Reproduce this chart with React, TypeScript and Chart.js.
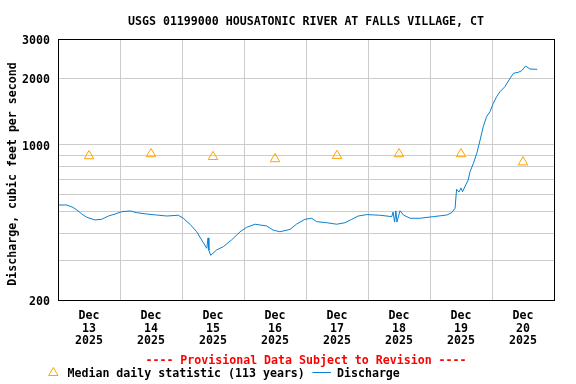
import React, { useEffect, useRef } from "react";
import { Chart, registerables } from "chart.js";

Chart.register(...registerables);

const TITLE = "USGS 01199000 HOUSATONIC RIVER AT FALLS VILLAGE, CT";
const Y_TITLE = "Discharge, cubic feet per second";
const PROVISIONAL = "---- Provisional Data Subject to Revision ----";
const LEGEND_MEDIAN = "Median daily statistic (113 years)";
const LEGEND_DISCHARGE = "Discharge";

const monthLabel = "Dec";
const yearLabel = "2025";
const dayLabels = ["13", "14", "15", "16", "17", "18", "19", "20"];

const yGridValues = [200, 300, 400, 500, 600, 700, 800, 900, 1000, 2000, 3000];
const yLabelValues = [200, 1000, 2000, 3000];

// hours since Dec 13 00:00
const dischargeHours = [
  0, 3.4, 5.8, 7.7, 9.2, 11.1, 14.3, 16.9, 19.5, 22.1, 24.7, 27.9, 30.5, 34.3,
  38.2, 42.1, 46.6, 48.5, 51.1, 53.7, 55.6, 57.6, 58.1, 58.4, 59.1, 61.4, 64.0,
  67.2, 70.5, 73.0, 76.3, 80.8, 83.3, 85.9, 89.8, 92.4, 95.6, 98.2, 100.1,
  104.0, 107.9, 111.1, 113.7, 116.2, 119.5, 124.6, 129.2, 129.7, 130.3, 130.8,
  131.2, 132.4, 133.7, 136.3, 140.1, 145.3, 150.5, 152.4, 153.7, 154.3, 155.2,
  156.0, 156.6, 157.5, 158.8, 159.5, 160.8, 162.1, 163.4, 164.6, 165.9, 167.2,
  168.5, 169.8, 171.1, 173.0, 175.0, 176.3, 178.2, 179.5, 181.0, 182.7, 185.5,
];
const dischargeValues = [
  536, 536, 523, 505, 488, 472, 459, 462, 478, 488, 500, 504, 495, 488,
  483, 478, 482, 467, 439, 406, 373, 342, 381, 335, 318, 336, 348,
  373, 406, 425, 439, 431, 413, 406, 416, 440, 462, 467, 451,
  446, 439, 446, 462, 478, 485, 482, 475, 498, 449, 504,
  449, 505, 483, 467, 467, 475, 483, 495, 518, 631, 613,
  640, 615, 648, 695, 757, 826, 916, 1052, 1207, 1339, 1411,
  1539, 1649, 1737, 1829, 1995, 2102, 2124, 2159, 2267, 2197, 2190,
];

const medianHours = [12, 36, 60, 84, 108, 132, 156, 180];
const medianValues = [891, 910, 884, 864, 894, 910, 910, 836];

const FONT = 'bold 11.6px "DejaVu Sans Mono"';
const LINE_COLOR = "#0a80d0";
const MEDIAN_COLOR = "#ffa500";
const GRID_COLOR = "#cccccc";

const decorPlugin = {
  id: "decor",
  afterDraw(chart: any) {
    const { ctx, chartArea: a } = chart;
    ctx.save();
    ctx.strokeStyle = "#000";
    ctx.lineWidth = 1;
    ctx.strokeRect(a.left + 0.5, a.top + 0.5, a.right - a.left, a.bottom - a.top);

    const cx = (a.left + a.right) / 2;
    ctx.font = FONT;
    ctx.fillStyle = "#000";
    ctx.textAlign = "center";
    ctx.textBaseline = "middle";
    ctx.fillText(TITLE, cx, 21.5);

    ctx.save();
    ctx.translate(13, 174);
    ctx.rotate(-Math.PI / 2);
    ctx.fillText(Y_TITLE, 0, 0);
    ctx.restore();

    ctx.fillStyle = "#ff0000";
    ctx.fillText(PROVISIONAL, cx, 360.5);

    // legend
    ctx.strokeStyle = MEDIAN_COLOR;
    ctx.beginPath();
    ctx.moveTo(53.3, 367.5);
    ctx.lineTo(58, 375.5);
    ctx.lineTo(48.6, 375.5);
    ctx.closePath();
    ctx.stroke();

    ctx.fillStyle = "#000";
    ctx.textAlign = "left";
    ctx.fillText(LEGEND_MEDIAN, 67.5, 374);

    ctx.strokeStyle = LINE_COLOR;
    ctx.beginPath();
    ctx.moveTo(312.5, 372.5);
    ctx.lineTo(331, 372.5);
    ctx.stroke();

    ctx.fillText(LEGEND_DISCHARGE, 337, 374);
    ctx.restore();
  },
};

export default function App() {
  const canvasRef = useRef<HTMLCanvasElement | null>(null);

  useEffect(() => {
    if (!canvasRef.current) return;
    const chart = new Chart(canvasRef.current, {
      type: "line",
      data: {
        datasets: [
          {
            label: "Discharge",
            data: dischargeHours.map((h, i) => ({ x: h, y: dischargeValues[i] })),
            borderColor: LINE_COLOR,
            borderWidth: 1,
            pointRadius: 0,
            fill: false,
            tension: 0,
            order: 2,
          },
          {
            label: "Median",
            data: medianHours.map((h, i) => ({ x: h, y: medianValues[i] })),
            showLine: false,
            pointStyle: "triangle",
            pointRadius: 5.5,
            borderColor: MEDIAN_COLOR,
            backgroundColor: "rgba(0,0,0,0)",
            borderWidth: 1,
            order: 1,
          },
        ],
      },
      options: {
        animation: false,
        responsive: false,
        events: [],
        layout: { padding: { top: 39, right: 22, left: 0, bottom: 0 } },
        plugins: {
          legend: { display: false },
          tooltip: { enabled: false },
          title: { display: false },
        },
        scales: {
          x: {
            type: "linear",
            min: 0,
            max: 192,
            afterBuildTicks: (scale: any) => {
              const t = [];
              for (let v = 0; v <= 192; v += 12) t.push({ value: v });
              scale.ticks = t;
            },
            afterFit: (scale: any) => {
              scale.height = 84;
            },
            border: { display: false },
            grid: {
              drawTicks: false,
              lineWidth: 1,
              color: (ctx: any) =>
                ctx.tick && ctx.tick.value % 24 === 0 ? GRID_COLOR : "rgba(0,0,0,0)",
            },
            ticks: {
              autoSkip: false,
              maxRotation: 0,
              minRotation: 0,
              padding: 9,
              color: "#000",
              font: { family: "DejaVu Sans Mono", weight: "bold", size: 11.6, lineHeight: 1.12 },
              callback: (value: any) => {
                const v = Number(value);
                if (v % 24 !== 12) return "";
                const idx = Math.floor(v / 24);
                return [monthLabel, dayLabels[idx], yearLabel];
              },
            },
          },
          y: {
            type: "logarithmic",
            min: 200,
            max: 3000,
            afterBuildTicks: (scale: any) => {
              scale.ticks = yGridValues.map((v) => ({ value: v }));
            },
            afterFit: (scale: any) => {
              scale.width = 58;
            },
            border: { display: false },
            grid: { drawTicks: false, color: GRID_COLOR, lineWidth: 1 },
            ticks: {
              autoSkip: false,
              padding: 8,
              labelOffset: 2,
              color: "#000",
              font: { family: "DejaVu Sans Mono", weight: "bold", size: 11.6 },
              callback: (value: any) => {
                const v = Number(value);
                return yLabelValues.includes(v) ? String(v) : "";
              },
            },
          },
        },
      },
      plugins: [decorPlugin],
    } as any);
    return () => chart.destroy();
  }, []);

  return (
    <div style={{ position: "absolute", left: 0, top: 0, width: 576, height: 384, background: "#fff" }}>
      <canvas ref={canvasRef} width={576} height={384} />
    </div>
  );
}
